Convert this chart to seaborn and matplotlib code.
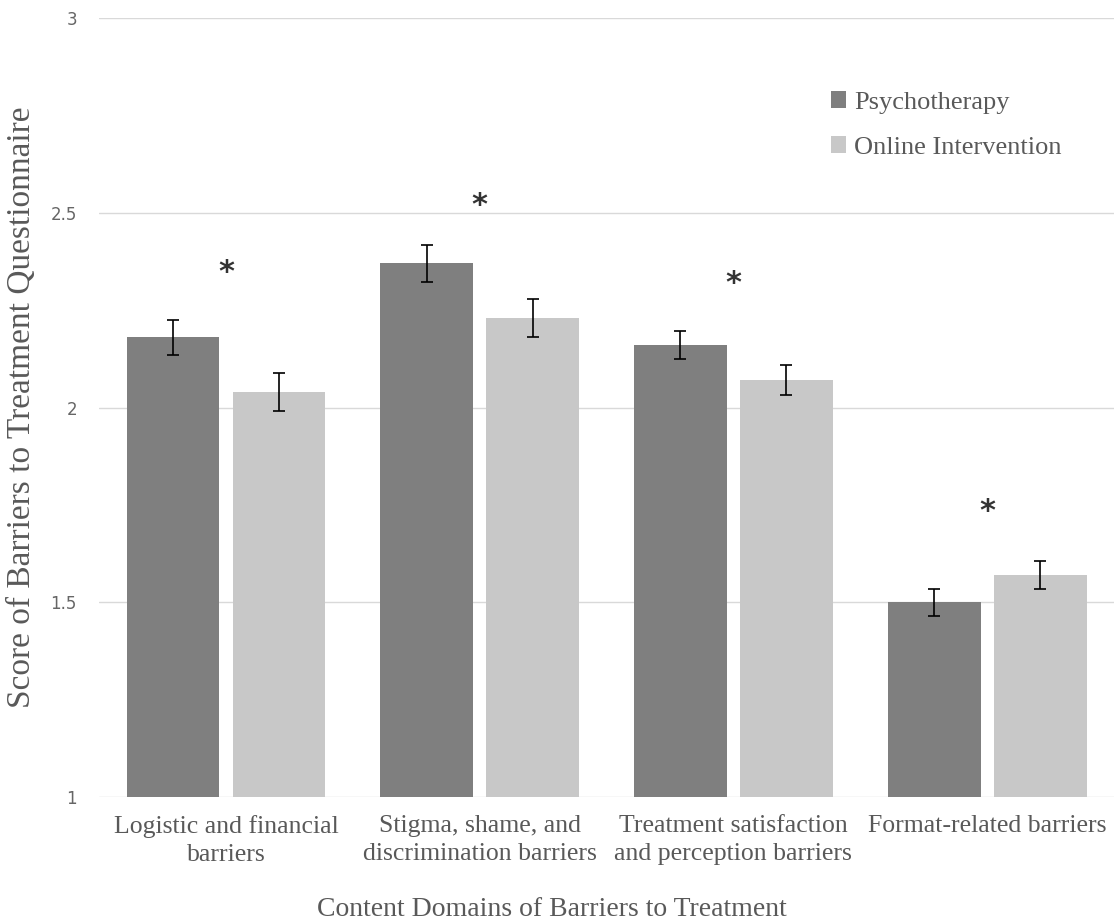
import numpy as np
import pandas as pd
import matplotlib
matplotlib.use("Agg")
import matplotlib.pyplot as plt
import seaborn as sns

# values
domains = ["Logistic and financial\nbarriers",
           "Stigma, shame, and\ndiscrimination barriers",
           "Treatment satisfaction\nand perception barriers",
           "Format-related barriers"]
groups = ["Psychotherapy", "Online Intervention"]
psych_mean = [2.18, 2.37, 2.16, 1.50]
psych_err = [0.044, 0.048, 0.036, 0.034]
online_mean = [2.04, 2.23, 2.07, 1.57]
online_err = [0.048, 0.048, 0.038, 0.036]
star_y = [2.36, 2.53, 2.33, 1.745]
yticks = [1, 1.5, 2, 2.5, 3]
yticklabels = ["1", "1.5", "2", "2.5", "3"]

df = pd.DataFrame({
    "domain": domains * 2,
    "group": [groups[0]] * 4 + [groups[1]] * 4,
    "score": psych_mean + online_mean,
})
errs = [psych_err, online_err]

sns.set_style("white")
serif = "Liberation Serif"
grey_txt = "#595959"

fig = plt.figure(figsize=(11.14, 9.23), dpi=100)
ax = fig.add_axes([0.089, 0.1365, 0.911, 0.844])

sns.barplot(data=df, x="domain", y="score", hue="group", order=domains,
            hue_order=groups, palette=["#7f7f7f", "#c8c8c8"],
            errorbar=None, width=0.835, gap=0.123, saturation=1,
            linewidth=0, ax=ax, zorder=2)

for cont, e in zip(ax.containers, errs):
    xs = [p.get_x() + p.get_width() / 2 for p in cont]
    ys = [p.get_height() for p in cont]
    ax.errorbar(xs, ys, yerr=e, fmt="none", ecolor="black", elinewidth=1.2,
                capsize=4.5, capthick=1.2, zorder=3)

# significance stars
for i, sy in enumerate(star_y):
    ax.annotate("*", (i, sy), xytext=(0, -3.5), textcoords="offset points",
                ha="center", va="center", fontsize=22, fontweight="bold",
                family="DejaVu Sans", color="#333333")

ax.set_ylim(1, 3)
ax.set_xlim(-0.5, 3.5)
ax.set_yticks(yticks)
ax.set_yticklabels(yticklabels, fontsize=12, color="#666666")
ax.yaxis.grid(True, color="#d9d9d9", linewidth=1, zorder=0)
ax.set_axisbelow(True)
for s in ax.spines.values():
    s.set_visible(False)
ax.tick_params(axis="y", length=0, pad=16)
ax.tick_params(axis="x", length=0, pad=13)
for lbl in ax.get_xticklabels():
    lbl.set_family(serif)
    lbl.set_fontsize(18.5)
    lbl.set_color(grey_txt)
    lbl.set_linespacing(1.35)

ax.set_xlabel("Content Domains of Barriers to Treatment", family=serif,
              fontsize=20, color=grey_txt)
ax.xaxis.set_label_coords(0.446, -0.128)
ax.set_ylabel("Score of Barriers to Treatment Questionnaire", family=serif,
              fontsize=24, color=grey_txt)
ax.yaxis.set_label_coords(-0.061, 0.5)

leg = ax.legend(loc="upper right", bbox_to_anchor=(0.972, 0.937), frameon=False,
                prop={"family": serif, "size": 19}, handlelength=0.6,
                handleheight=0.6, handletextpad=0.3, labelspacing=0.85)
for t in leg.get_texts():
    t.set_color(grey_txt)

fig.savefig("out.png", dpi=100)
